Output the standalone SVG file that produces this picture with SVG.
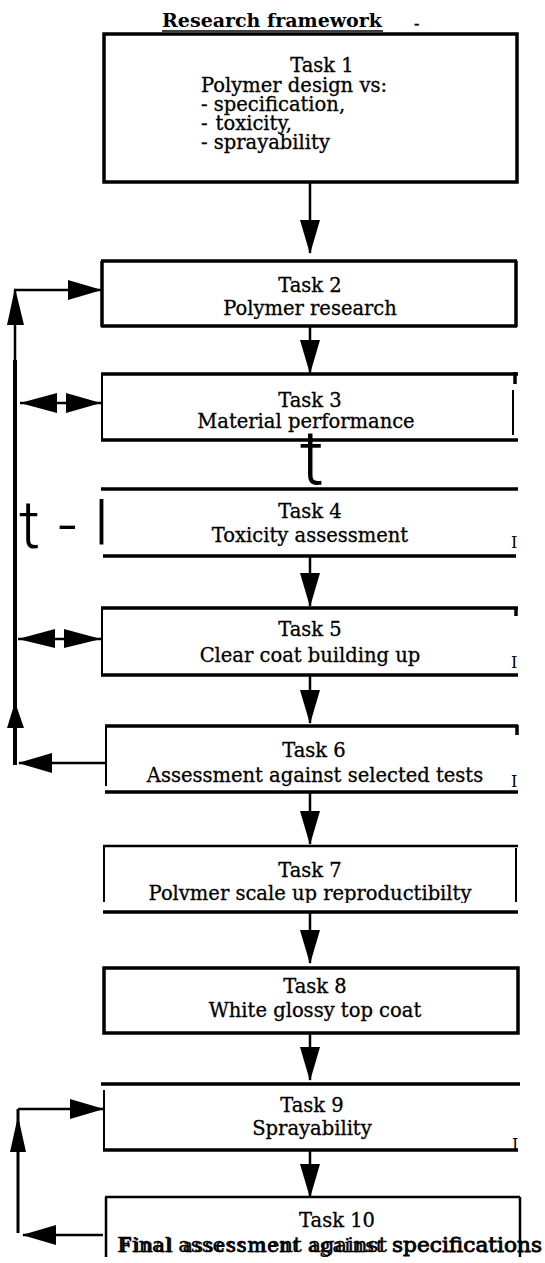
<svg xmlns="http://www.w3.org/2000/svg" width="545" height="1263" viewBox="0 0 545 1263">
<style>
  .t{font-family:"DejaVu Serif","Liberation Serif",serif;font-size:19.5px;fill:#000;stroke:#000;stroke-width:0.3;text-anchor:middle}
  .l{font-family:"DejaVu Serif","Liberation Serif",serif;font-size:19.5px;fill:#000;stroke:#000;stroke-width:0.3}
  .b{fill:none;stroke:#000;stroke-width:3.5}
  .s{fill:none;stroke:#000;stroke-width:2}
  .c{fill:none;stroke:#000;stroke-width:2.5}
  .ah{fill:#000}
  .big{font-family:Roboto,"Liberation Sans","DejaVu Sans",sans-serif;font-weight:300;fill:#000}
</style>
<defs>
  <marker id="arr" markerUnits="userSpaceOnUse" markerWidth="34" markerHeight="20" refX="33" refY="10" orient="auto">
    <path d="M0,0 L34,10 L0,20 Z" fill="#000"/>
  </marker>
</defs>
<rect width="545" height="1263" fill="#fff"/>

<g id="title">
  <text x="272" y="27" style="font-family:'DejaVu Serif','Liberation Serif',serif;font-size:19px;font-weight:bold;text-anchor:middle">Research framework</text>
  <line x1="162" y1="31" x2="383" y2="31" stroke="#000" stroke-width="1.5"/>
  <text x="414" y="29" class="l" style="font-size:16px">-</text>
</g>

<g id="task1">
  <rect x="104" y="34" width="413" height="148" class="b"/>
  <text x="322" y="72" class="t">Task 1</text>
  <text x="201" y="92" class="l">Polymer design vs:</text>
  <text x="201" y="111" class="l">- specification,</text>
  <text x="201" y="130" class="l">-<tspan dx="8">toxicity,</tspan></text>
  <text x="201" y="149" class="l">- sprayability</text>
</g>

<g id="task2">
  <path d="M101,261 H517 M102,261 V327 M516,261 V327 M101,326 H517" class="b"/>
  <text x="310" y="292" class="t">Task 2</text>
  <text x="310" y="315" class="t">Polymer research</text>
</g>

<g id="task3">
  <path d="M101,374 H518 M101,440 H518" class="b"/>
  <path d="M102,374 V440 M513,390 V435" class="s"/>
  <path d="M515,372 V384" class="b"/>
  <text x="310" y="407" class="t">Task 3</text>
  <text x="306" y="428" class="t">Material performance</text>
</g>

<g id="task4">
  <path d="M101,489 H518 M103,556 H516" class="b"/>
  <text x="310" y="518" class="t">Task 4</text>
  <text x="310" y="542" class="t">Toxicity assessment</text>
  <text x="511" y="548" class="l" style="font-size:16px;stroke-width:0">I</text>
</g>

<g id="task5">
  <path d="M101,608 H518 M101,675 H518" class="b"/>
  <path d="M102,608 V675" class="s"/>
  <path d="M516,607 V616" class="b"/>
  <text x="310" y="636" class="t">Task 5</text>
  <text x="310" y="662" class="t">Clear coat building up</text>
  <text x="511" y="668" class="l" style="font-size:16px;stroke-width:0">I</text>
</g>

<g id="task6">
  <path d="M105,726 H518 M105,792 H518" class="b"/>
  <path d="M106,726 V786" class="s"/>
  <path d="M517,725 V735" class="b"/>
  <text x="314" y="757" class="t">Task 6</text>
  <text x="315" y="782" class="t">Assessment against selected tests</text>
  <text x="511" y="787" class="l" style="font-size:16px;stroke-width:0">I</text>
</g>

<g id="task7">
  <path d="M103,846 H518" class="c"/>
  <path d="M104,846 V902 M516,848 V902" class="s"/>
  <text x="310" y="877" class="t">Task 7</text>
  <text x="310" y="900" class="t">Polvmer scale up reproductibilty</text>
  <rect x="106" y="903" width="408" height="7" fill="#fff"/>
  <path d="M103,912 H518" class="b"/>
</g>

<g id="task8">
  <rect x="104" y="968" width="414" height="65" class="b"/>
  <text x="315" y="993" class="t">Task 8</text>
  <text x="315" y="1017" class="t">White glossy top coat</text>
</g>

<g id="task9">
  <path d="M101,1084 H520 M103,1150 H518" class="b"/>
  <path d="M104,1090 V1150" class="s"/>
  <text x="312" y="1112" class="t">Task 9</text>
  <text x="312" y="1135" class="t">Sprayability</text>
  <text x="512" y="1150" class="l" style="font-size:16px;stroke-width:0">I</text>
</g>

<g id="task10">
  <path d="M105,1197 H520 M106,1197 V1258 M520,1197 V1258" class="c"/>
  <text x="337" y="1227" class="t">Task 10</text>
  <text x="117" y="1252" class="l" textLength="270" lengthAdjust="spacingAndGlyphs">Final assessment against</text>
  <text x="120" y="1252" style="font-family:'Liberation Serif',serif;font-size:21px;fill:#000;stroke:#000;stroke-width:0.4" textLength="262" lengthAdjust="spacing">Final assessment against</text>
  <text x="392" y="1252" class="l" style="stroke-width:0.8" textLength="150" lengthAdjust="spacingAndGlyphs">specifications</text>
</g>

<g id="connectors">
  <line x1="310" y1="183" x2="310" y2="253" class="c" marker-end="url(#arr)"/>
  <line x1="310" y1="327" x2="310" y2="373" class="c" marker-end="url(#arr)"/>
  <text x="312" y="484" class="big" style="font-size:76px;text-anchor:middle">t</text>
  <line x1="310" y1="556" x2="310" y2="606" class="c" marker-end="url(#arr)"/>
  <line x1="310" y1="675" x2="310" y2="723" class="c" marker-end="url(#arr)"/>
  <line x1="310" y1="792" x2="310" y2="844" class="c" marker-end="url(#arr)"/>
  <line x1="310" y1="912" x2="310" y2="963" class="c" marker-end="url(#arr)"/>
  <line x1="310" y1="1033" x2="310" y2="1080" class="c" marker-end="url(#arr)"/>
  <line x1="310" y1="1150" x2="310" y2="1197" class="c" marker-end="url(#arr)"/>

  <!-- loop 1 -->
  <line x1="105" y1="763" x2="19" y2="763" class="c" marker-end="url(#arr)"/>
  <line x1="15" y1="765" x2="15" y2="360" stroke="#000" stroke-width="4"/>
  <line x1="15" y1="360" x2="15" y2="290" stroke="#000" stroke-width="2.5"/>
  <path d="M15,702 L24,728 L7,728 Z" class="ah"/>
  <path d="M15,288 L24,325 L7,325 Z" class="ah"/>
  <line x1="14" y1="290" x2="101" y2="290" class="c" marker-end="url(#arr)"/>

  <!-- double arrows -->
  <line x1="20" y1="403" x2="101" y2="403" class="c"/>
  <path d="M20,403 L57,393 L57,413 Z M101,403 L66,393 L66,413 Z" class="ah"/>
  <line x1="18" y1="639" x2="101" y2="639" class="c"/>
  <path d="M18,639 L55,629 L55,648 Z M101,639 L64,629 L64,648 Z" class="ah"/>

  <!-- left glyph fragments -->
  <text x="19" y="548" class="big" style="font-size:66px">t</text>
  <text x="58" y="548" class="big" style="font-size:66px">-</text>
  <text x="95" y="537" class="big" style="font-size:53px;font-weight:400">|</text>

  <!-- loop 2 -->
  <line x1="18" y1="1109" x2="103" y2="1109" class="c" marker-end="url(#arr)"/>
  <line x1="18" y1="1233" x2="18" y2="1109" stroke="#000" stroke-width="3"/>
  <path d="M18,1116 L26,1152 L10,1152 Z" class="ah"/>
  <line x1="103" y1="1235" x2="23" y2="1235" class="c" marker-end="url(#arr)"/>
</g>
<rect x="0" y="1257" width="545" height="6" fill="#fff"/>
</svg>
